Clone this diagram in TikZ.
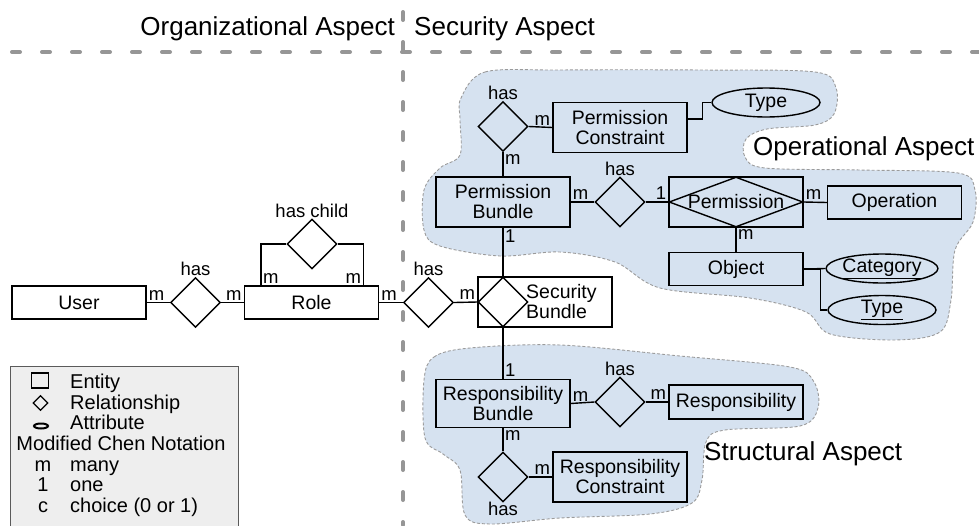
\documentclass[tikz,border=0pt]{standalone}
\usepackage{fontspec}
\setmainfont{Liberation Sans}
\usetikzlibrary{shapes.geometric}
\definecolor{blobfill}{RGB}{214,226,240}
\definecolor{blobline}{RGB}{155,155,155}
\definecolor{sepgray}{RGB}{150,150,150}
\definecolor{legfill}{RGB}{238,238,238}
\definecolor{legline}{RGB}{90,90,90}
\tikzset{
  ent/.style={draw, line width=1.4pt, minimum width=134pt, minimum height=33pt, inner sep=0pt, align=center, font=\fontsize{19.5}{20}\selectfont},
  rel/.style={draw, shape=diamond, line width=1.4pt, minimum width=50pt, minimum height=50pt, inner sep=0pt},
  att/.style={draw, ellipse, line width=1.4pt, minimum width=108pt, minimum height=29pt, inner sep=0pt, font=\fontsize{19.5}{20}\selectfont},
  lbl/.style={font=\fontsize{18.5}{19}\selectfont, inner sep=1.5pt},
  txt/.style={font=\fontsize{19.5}{20}\selectfont, inner sep=0pt},
  conn/.style={line width=1.4pt},
  blob/.style={fill=blobfill, draw=blobline, line width=0.9pt, dash pattern=on 3pt off 2pt},
  sepline/.style={draw=sepgray, line width=4pt, line cap=round, dash pattern=on 8pt off 22pt},
  aspect/.style={font=\fontsize{26}{28}\selectfont, inner sep=0pt},
  legtxt/.style={font=\fontsize{20}{21}\selectfont, inner sep=0pt},
  hasabove/.style={label={[lbl, label distance=-1pt]above:has}},
  hasbelow/.style={label={[lbl, label distance=-2pt]below:has}},
}
\begin{document}
\begin{tikzpicture}[x=1pt,y=-1pt]
\useasboundingbox (0,0) rectangle (979,525);

% aspect regions
\draw[blob] plot[smooth cycle, tension=0.55] coordinates {
  (461,98) (485,72) (560,70) (700,70) (815,72) (836,88) (834,114) (815,125)
  (767,129) (746,139) (745,157) (765,168) (860,170) (958,173) (975,190)
  (973,222) (955,250) (951,300) (940,332) (895,340) (830,334) (806,312)
  (750,298) (660,288) (615,262) (560,252) (500,256) (440,246) (424,230)
  (424,190) (440,168) (460,155) (460,120)};
\draw[blob] plot[smooth cycle, tension=0.55] coordinates {
  (424,380) (434,357) (470,348) (560,345) (680,356) (790,367) (814,382)
  (818,408) (800,426) (725,430) (706,442) (702,480) (692,503) (650,514)
  (560,518) (490,524) (465,515) (460,470) (443,454) (425,438)};

% separators
\draw[sepline] (12,52) -- (979,52);
\draw[sepline] (403,12) -- (403,525);
\node[aspect, anchor=base east] (orga) at (395,35) {Organizational Aspect};
\node[aspect, anchor=base west] (seca) at (414,35) {Security Aspect};
\node[aspect, anchor=base west] (opa) at (753,155) {Operational Aspect};
\node[aspect, anchor=base west] (sta) at (704,460) {Structural Aspect};

% organizational part
\node[ent] (user) at (79,302.5) {User};
\node[rel, hasabove] (h1) at (195.5,302.5) {};
\node[ent] (role) at (311.5,302.5) {Role};
\node[rel, label={[lbl, label distance=-1pt]above:has child}] (hc) at (312,244) {};
\node[rel, hasabove] (h2) at (428.5,302.5) {};

% security bundle
\node[ent, minimum height=50pt] (sb) at (545,302) {};
\node[rel, anchor=west] (sbd) at (sb.west) {};
\node[txt, anchor=west, align=left] (sbt) at (526,302) {Security\\Bundle};

% operational
\node[ent, minimum height=50pt] (pb) at (503,202) {Permission\\Bundle};
\node[rel, hasabove] (h3) at (503,126.5) {};
\node[ent, minimum height=50pt] (pc) at (620,127.5) {Permission\\Constraint};
\node[att] (t1) at (766,102.5) {Type};
\node[rel, hasabove] (h4) at (620,202) {};
\node[rel, minimum width=134pt, minimum height=50pt] (permd) at (736,202) {};
\node[ent, minimum height=50pt] (perm) at (736,202) {Permission};
\node[ent] (oper) at (894.5,202.5) {Operation};
\node[ent] (obj) at (736,269) {Object};
\node[att] (cat) at (882,268.5) {\underline{Category}};
\node[att] (t2) at (882,310) {\underline{Type}};

% structural
\node[ent, minimum height=48pt] (rb) at (503,403.5) {Responsibility\\Bundle};
\node[rel, hasabove] (h5) at (620,402) {};
\node[ent, minimum height=34pt] (resp) at (736,402) {Responsibility};
\node[rel, hasbelow] (h6) at (503,477) {};
\node[ent, minimum height=50pt] (rc) at (620,477) {Responsibility\\Constraint};

% connectors
\draw[conn] (user.east) -- node[lbl, pos=0, above right] {m} (h1.west);
\draw[conn] (h1.east) -- node[lbl, pos=1, above left] {m} (role.west);
\draw[conn] (hc.west) -| node[lbl, pos=1, above right] {m} ([xshift=17pt]role.north west);
\draw[conn] (hc.east) -| node[lbl, pos=1, above left] {m} ([xshift=-16pt]role.north east);
\draw[conn] (role.east) -- node[lbl, pos=0, above right] {m} (h2.west);
\draw[conn] (h2.east) -- node[lbl, pos=1, above left] {m} (sb.west);

\draw[conn] (pb.south) -- node[lbl, pos=0, below right] {1} (sbd.north);
\draw[conn] (pb.north) -- node[lbl, pos=1, below right] {m} (h3.south);
\draw[conn] (h3.east) -- node[lbl, pos=1, above left] {m} (pc.west);
\draw[conn] ([yshift=8.5pt]pc.east) -- ++(15,0) |- (t1.west);
\draw[conn] (pb.east) -- node[lbl, pos=0, above right] {m} (h4.west);
\draw[conn] (h4.east) -- node[lbl, pos=1, above left] {1} (perm.west);
\draw[conn] (perm.east) -- node[lbl, pos=0, above right] {m} (oper.west);
\draw[conn] (perm.south) -- node[lbl, pos=0, below right] {m} (obj.north);
\draw[conn] (obj.east) -- (cat.west);
\draw[conn] (obj.east) -- ++(17,0) |- (t2.west);

\draw[conn] (sbd.south) -- node[lbl, pos=1, above right] {1} (rb.north);
\draw[conn] (rb.east) -- node[lbl, pos=0, above right] {m} (h5.west);
\draw[conn] (h5.east) -- node[lbl, pos=1, above left] {m} (resp.west);
\draw[conn] (rb.south) -- node[lbl, pos=0, below right] {m} (h6.north);
\draw[conn] (h6.east) -- node[lbl, pos=1, above left] {m} (rc.west);

% legend
\draw[fill=legfill, draw=legline, line width=1pt] (10,366) rectangle (238,530);
\node[draw, line width=1.2pt, minimum width=17pt, minimum height=15pt, inner sep=0pt] (lsq) at (40,380.5) {};
\node[draw, diamond, line width=1.2pt, minimum width=15pt, minimum height=15pt, inner sep=0pt] (ldi) at (40.5,403) {};
\node[draw, ellipse, line width=2pt, minimum width=14pt, minimum height=5pt, inner sep=0pt] (lel) at (41,426) {};
\node[legtxt, anchor=base west] (lt1) at (70,388.5) {Entity};
\node[legtxt, anchor=base west] (lt2) at (70,409) {Relationship};
\node[legtxt, anchor=base west] (lt3) at (70,429.7) {Attribute};
\node[legtxt, anchor=base] (lt4) at (121,450.3) {Modified Chen Notation};
\node[legtxt, anchor=base] (lk1) at (43,471) {m};
\node[legtxt, anchor=base west] (lt5) at (70,471) {many};
\node[legtxt, anchor=base] (lk2) at (43,491.5) {1};
\node[legtxt, anchor=base west] (lt6) at (70,491.5) {one};
\node[legtxt, anchor=base] (lk3) at (43,512) {c};
\node[legtxt, anchor=base west] (lt7) at (70,512) {choice (0 or 1)};
\end{tikzpicture}
\end{document}
